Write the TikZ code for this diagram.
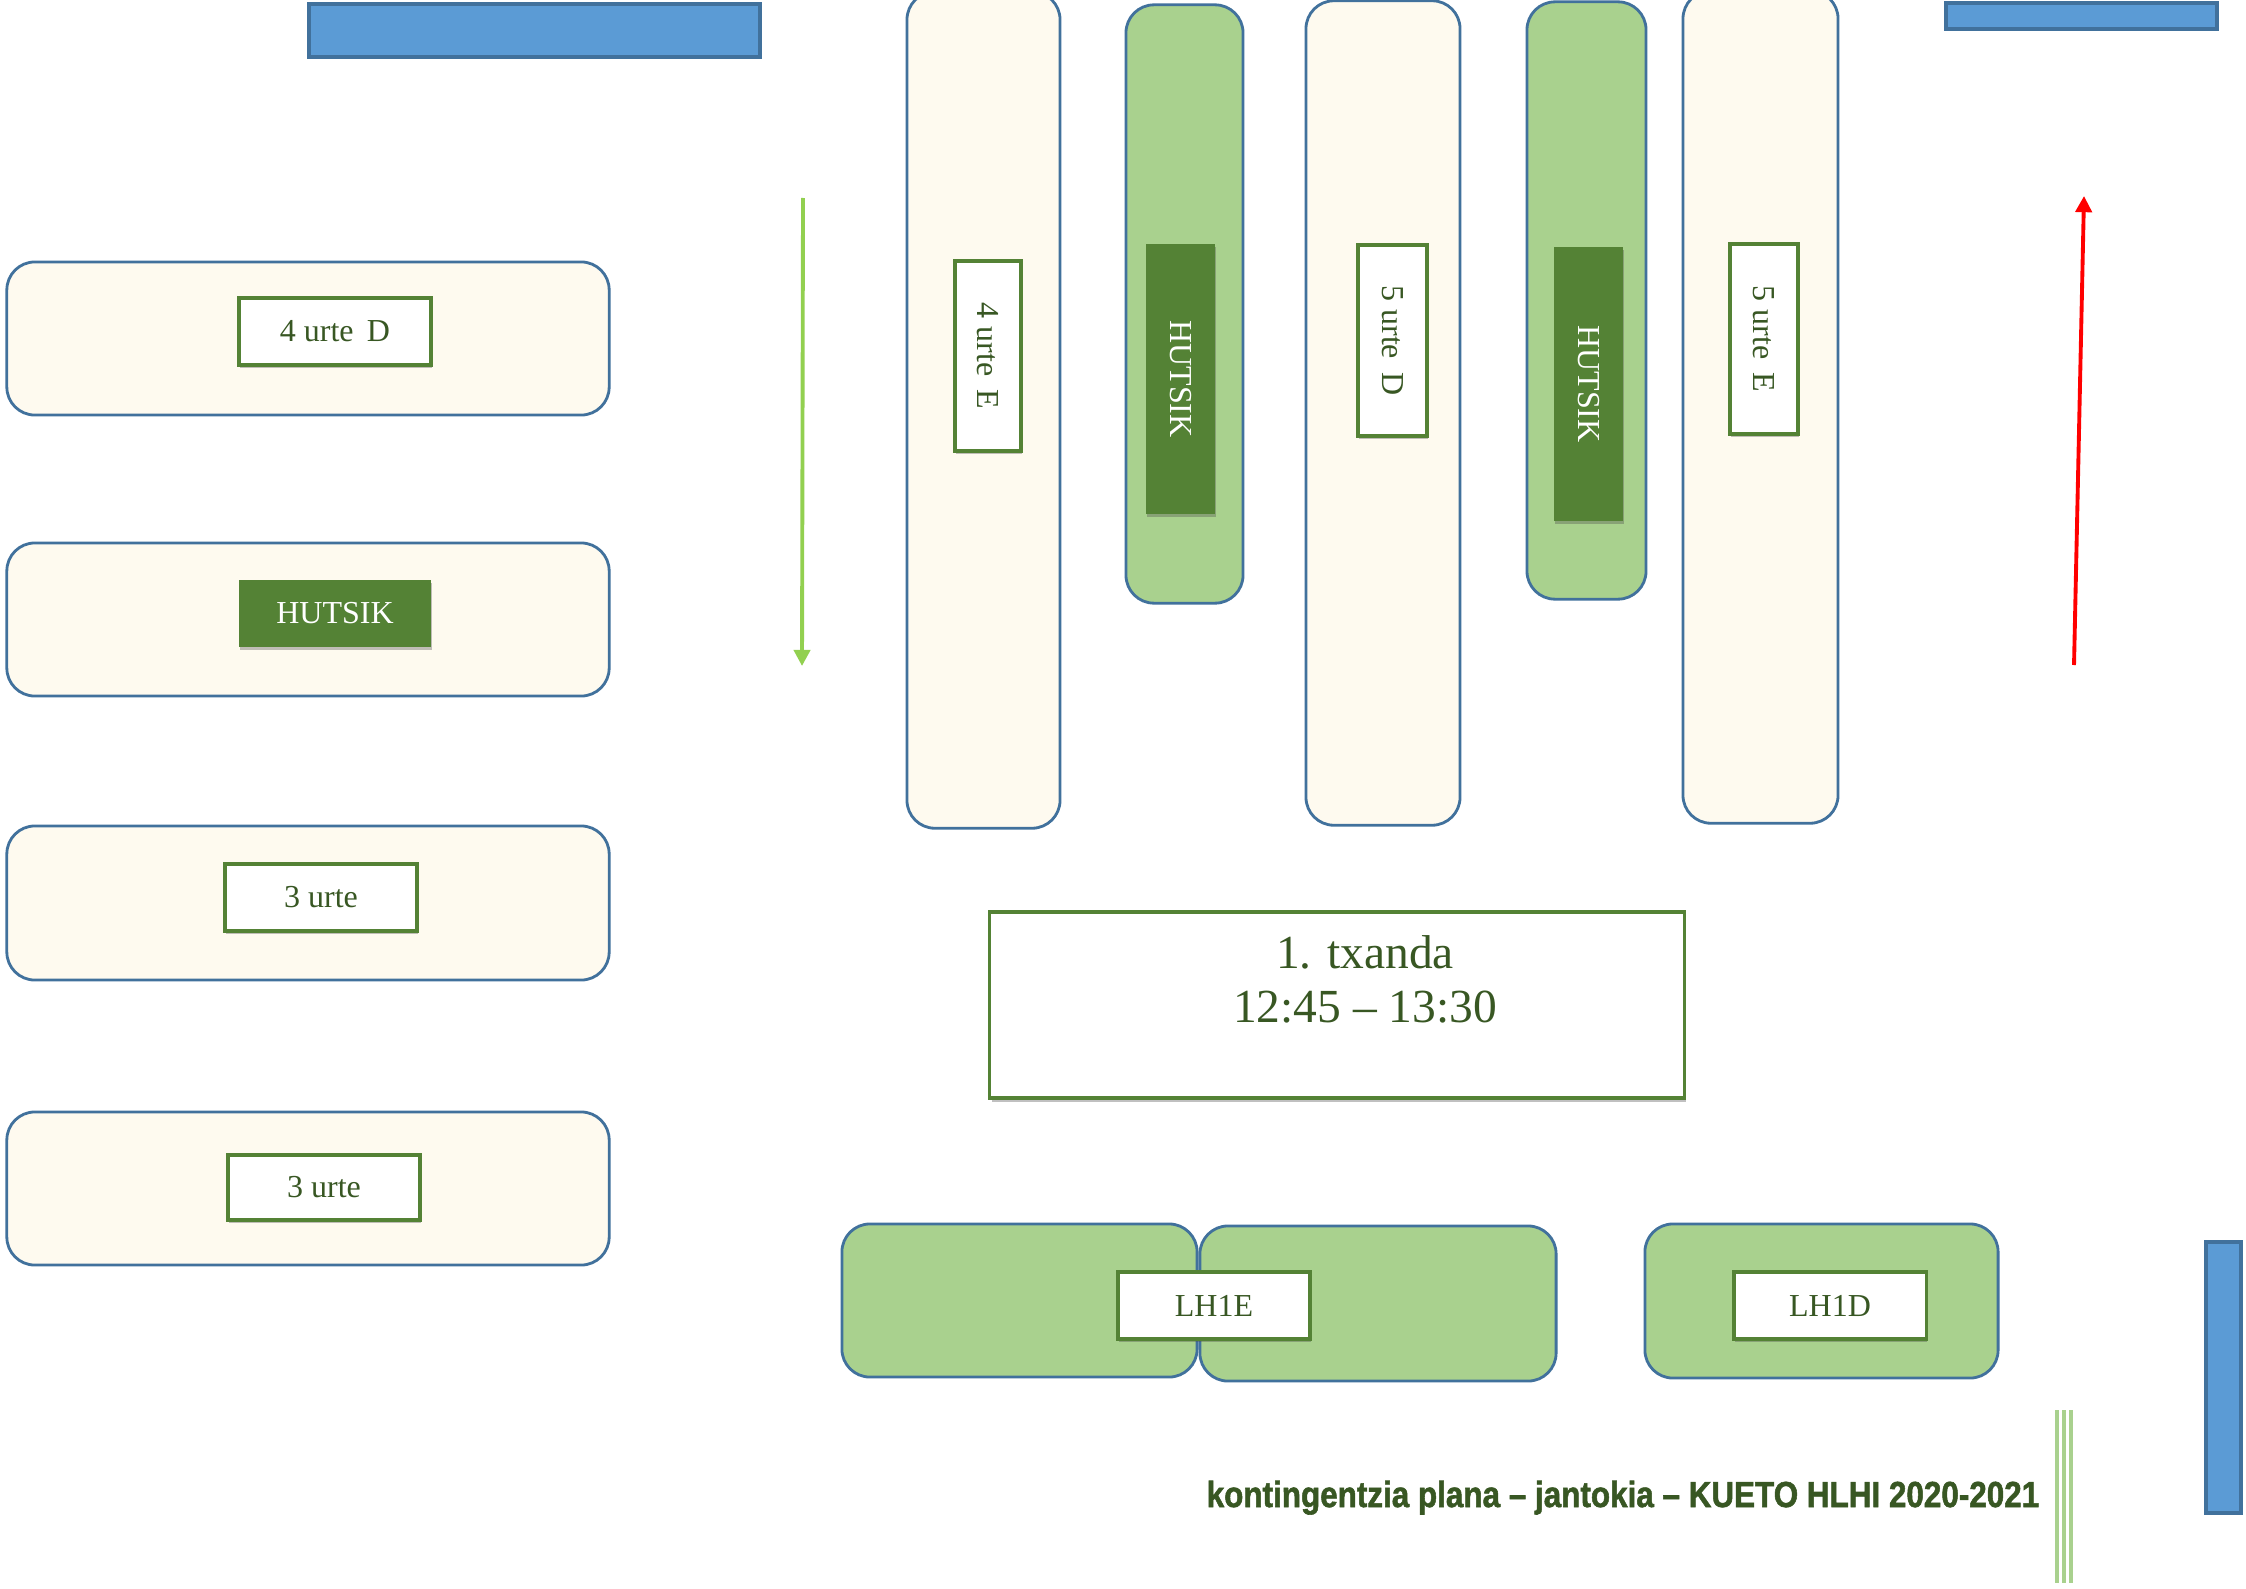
\documentclass[tikz,border=0pt]{standalone}
\usepackage{fontspec}
\setmainfont{Liberation Serif}
\newfontfamily\footfont[Ligatures=TeX, BoldFeatures={FakeBold=1.6}]{Liberation Sans}
\usetikzlibrary{shadows,arrows.meta}
\definecolor{bordblue}{HTML}{41719C}
\definecolor{barblue}{HTML}{5B9BD5}
\definecolor{cream}{HTML}{FEFAEF}
\definecolor{lgreen}{HTML}{A9D18E}
\definecolor{mgreen}{HTML}{548235}
\definecolor{dgreen}{HTML}{385723}
\definecolor{agreen}{HTML}{92D050}
\tikzset{
  seat/.style={draw=bordblue, line width=0.8pt, rounded corners=0.28cm, fill=cream, inner sep=0pt},
  seatg/.style={seat, fill=lgreen},
  lbl/.style={draw=mgreen, line width=0.9pt, fill=white, text=dgreen, inner sep=0pt,
    font=\fontsize{9.1}{11}\selectfont,
    drop shadow={shadow xshift=0.4pt, shadow yshift=-0.8pt, opacity=0.35, fill=black!70}},
  hut/.style={lbl, draw=none, fill=mgreen, text=white},
  bigbox/.style={draw=mgreen, line width=0.9pt, fill=white, inner sep=0pt,
    drop shadow={shadow xshift=0.6pt, shadow yshift=-1pt, opacity=0.35, fill=black!70}},
  bigtxt/.style={text=dgreen, font=\fontsize{13.5}{16}\selectfont, anchor=base, inner sep=0pt},
  bluebar/.style={draw=bordblue, fill=barblue, line width=0.9pt},
  arr/.style={line width=1.1pt, -{Triangle[width=4.6pt,length=4.6pt]}},
  triple/.style={draw=lgreen, line width=1pt},
}
\begin{document}
\begin{tikzpicture}[x=0.01cm,y=-0.01cm]
\clip (0,0) rectangle (2246,1588);
\fill[white] (0,0) rectangle (2246,1588);

% blue bars
\draw[bluebar] (309,4) rectangle (760,57);
\draw[bluebar] (1946,3) rectangle (2217,29);
\draw[bluebar] (2206,1242) rectangle (2241,1513);

% left tables
\node[seat, minimum width=6.02cm, minimum height=1.53cm] (t1) at (308,338.5) {};
\node[seat, minimum width=6.02cm, minimum height=1.53cm] (t2) at (308,619.5) {};
\node[seat, minimum width=6.02cm, minimum height=1.54cm] (t3) at (308,903) {};
\node[seat, minimum width=6.02cm, minimum height=1.53cm] (t4) at (308,1188.5) {};
\node[lbl, minimum width=1.92cm, minimum height=0.67cm] (l1) at (335,331.5) {4 urte\, D};
\node[hut, minimum width=1.92cm, minimum height=0.67cm] (l2) at (335,613.5) {HUTSIK};
\node[lbl, minimum width=1.92cm, minimum height=0.67cm] (l3) at (321,897.5) {3 urte};
\node[lbl, minimum width=1.92cm, minimum height=0.65cm] (l4) at (324,1187.5) {3 urte};

% vertical tables
\node[seat, minimum width=1.53cm, minimum height=8.36cm] (c1) at (983.5,410) {};
\node[seatg, minimum width=1.17cm, minimum height=5.98cm] (c2) at (1184.5,304) {};
\node[seat, minimum width=1.54cm, minimum height=8.24cm] (c3) at (1383,413) {};
\node[seatg, minimum width=1.19cm, minimum height=5.97cm] (c4) at (1586.5,300.5) {};
\node[seat, minimum width=1.55cm, minimum height=8.32cm] (c5) at (1760.5,407) {};
\node[lbl, rotate=-90, minimum width=1.90cm, minimum height=0.66cm] (v1) at (988,356) {4 urte\, E};
\node[hut, rotate=-90, minimum width=2.70cm, minimum height=0.69cm] (v2) at (1180.5,379) {HUTSIK};
\node[lbl, rotate=-90, minimum width=1.91cm, minimum height=0.69cm] (v3) at (1392.5,340.5) {5 urte\, D};
\node[hut, rotate=-90, minimum width=2.74cm, minimum height=0.69cm] (v4) at (1588.5,384) {HUTSIK};
\node[lbl, rotate=-90, minimum width=1.90cm, minimum height=0.68cm] (v5) at (1764,339) {5 urte\, E};

% arrows
\coordinate (ga) at (803,198);
\coordinate (gb) at (802,666);
\draw[arr, draw=agreen, fill=agreen] (ga) -- (gb);
\coordinate (ra) at (2074,665);
\coordinate (rb) at (2084,196);
\draw[arr, draw=red, fill=red] (ra) -- (rb);

% shift box
\node[bigbox, minimum width=6.94cm, minimum height=1.86cm] (sh) at (1337,1005) {};
\node[bigtxt] (sh1) at (1365,968) {1. txanda};
\node[bigtxt] (sh2) at (1365,1022) {12:45 – 13:30};

% bottom tables
\node[seatg, minimum width=3.55cm, minimum height=1.53cm] (b1) at (1019.5,1300.5) {};
\node[seatg, minimum width=3.56cm, minimum height=1.55cm] (b2) at (1378,1303.5) {};
\node[seatg, minimum width=3.53cm, minimum height=1.54cm] (b3) at (1821.5,1301) {};
\node[lbl, minimum width=1.92cm, minimum height=0.67cm] (lh1e) at (1214,1305.5) {LH1E};
\node[lbl, minimum width=1.92cm, minimum height=0.67cm] (lh1d) at (1830,1305.5) {LH1D};

% footer
\node[anchor=base west, inner sep=0pt, text=dgreen] (foot) at (1206,1507)
  {\resizebox{8.32cm}{\height}{\footfont\bfseries\fontsize{10.3}{12}\selectfont kontingentzia plana – jantokia – KUETO HLHI 2020-2021}};
\coordinate (p1a) at (2057,1410); \coordinate (p1b) at (2057,1583);
\coordinate (p2a) at (2064,1410); \coordinate (p2b) at (2064,1583);
\coordinate (p3a) at (2071,1410); \coordinate (p3b) at (2071,1583);
\draw[triple] (p1a) -- (p1b);
\draw[triple] (p2a) -- (p2b);
\draw[triple] (p3a) -- (p3b);
\end{tikzpicture}
\end{document}
